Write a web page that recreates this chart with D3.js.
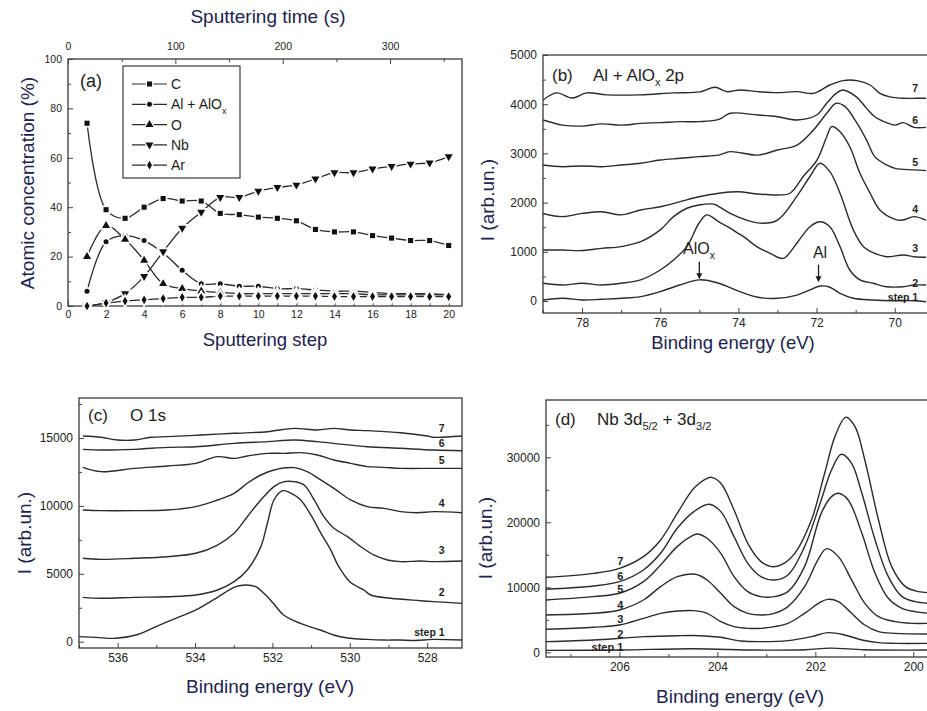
<!DOCTYPE html>
<html>
<head>
<meta charset="utf-8">
<script src="https://cdn.jsdelivr.net/npm/d3@7"></script>
<style>
body { margin: 0; background: #fff; }
text { font-family: "Liberation Sans", Arial, sans-serif; }
</style>
</head>
<body>
<svg id="fig" width="927" height="711"></svg>
<script>
// (a) depth profile: atomic concentration (%) per sputtering step
const steps = [1, 2, 3, 4, 5, 6, 7, 8, 9, 10, 11, 12, 13, 14, 15, 16, 17, 18, 19, 20];
const concC = [74, 39, 35.5, 40, 43.5, 42.5, 42.5, 37.5, 37, 36, 35.5, 34.5, 31, 30, 30, 28.5, 27.5, 26.5, 26.5, 24.5];
const concAl = [6, 26, 28.5, 26.5, 21.5, 14.5, 9, 9, 8, 8, 7, 7, 6.5, 6, 6, 5.5, 5, 5, 5, 4.5];
const concO = [20, 32.5, 27, 18.5, 9, 7, 6, 5.5, 5, 5, 5, 5, 5, 5, 5, 4.5, 4.5, 4.5, 4.5, 4.5];
const concNb = [0, 1.5, 5, 12, 22, 31.5, 38, 44, 44, 46.5, 48, 49, 51.5, 54, 54, 55.5, 56.5, 57.5, 58, 60.5];
const concAr = [0, 1.2, 2, 2.5, 3, 3.5, 3.5, 4, 4, 4, 4, 4, 4, 3.8, 3.8, 3.8, 3.8, 3.8, 3.8, 3.8];
const profileNames = ["C", "Al + AlO", "O", "Nb", "Ar"];

// (b) Al + AlOx 2p, [binding energy eV, intensity]
const al1 = [[79,20],[78.5,55],[78,20],[77.5,35],[77,55],[76.5,90],[76,190],[75.5,325],[75,430],[74.5,360],[74,200],[73.5,75],[73,55],[72.5,120],[72.17,225],[71.91,305],[71.66,280],[71.4,155],[71.06,55],[70.55,20],[70,5],[69.5,5],[69.2,-15]];
const al2 = [[79,360],[78.5,325],[78,360],[77.5,325],[77,360],[76.5,430],[76,630],[75.66,835],[75.32,1105],[75.01,1580],[74.81,1750],[74.5,1610],[74.21,1480],[74.01,1375],[73.87,1310],[73.53,1105],[73.19,970],[72.85,865],[72.51,1170],[72.17,1510],[71.91,1610],[71.66,1510],[71.4,1105],[71.15,630],[70.89,430],[70.55,360],[70.21,290],[69.78,290],[69.51,325],[69.2,325]];
const al3 = [[79,1035],[78.5,1035],[78,1025],[77.5,1070],[77,1105],[76.5,1205],[76,1445],[75.66,1715],[75.32,1885],[75.01,1950],[74.64,1970],[74.5,1920],[74.21,1780],[73.79,1645],[73.37,1580],[73,1645],[72.51,2120],[72.17,2530],[71.91,2800],[71.66,2630],[71.4,2190],[71.06,1445],[70.8,1105],[70.51,970],[70.21,900],[69.78,935],[69.51,900],[69.2,890]];
const al4 = [[79,1780],[78.5,1715],[78,1780],[77.5,1815],[77,1750],[76.5,1850],[76,1915],[75.49,2020],[75.01,2120],[74.5,2190],[74.01,2220],[73.5,2175],[73,2155],[72.68,2190],[72.34,2530],[71.99,2865],[71.74,3340],[71.61,3545],[71.4,3440],[71.15,3135],[70.89,2595],[70.63,2190],[70.38,1850],[69.99,1660],[69.78,1645],[69.51,1715],[69.2,1645]];
const al5 = [[79,2765],[78.5,2730],[78,2745],[77.5,2730],[77,2765],[76.5,2800],[76,2865],[75.49,2900],[75.01,2935],[74.5,2965],[74.21,3035],[73.5,2965],[73,3070],[72.5,3170],[72.08,3475],[71.74,3815],[71.5,4020],[71.27,3950],[70.99,3645],[70.72,3270],[70.51,2935],[70.21,2765],[69.99,2695],[69.51,2665],[69.2,2650]];
const al6 = [[79,3680],[78.5,3575],[78,3555],[77.5,3600],[77,3575],[76.5,3610],[76,3625],[75.49,3645],[75.01,3645],[74.5,3690],[74.21,3815],[73.5,3780],[73,3745],[72.5,3680],[72,3780],[71.74,4020],[71.5,4220],[71.33,4290],[70.99,4155],[70.72,3915],[70.51,3745],[70.21,3625],[69.99,3575],[69.78,3625],[69.51,3530],[69.2,3530]];
const al7 = [[79,4085],[78.65,4230],[78.26,4125],[77.88,4230],[77.37,4190],[76.52,4190],[75.67,4230],[74.98,4250],[74.6,4345],[74.3,4255],[73.96,4290],[73.5,4255],[73,4235],[72.5,4255],[72.08,4220],[71.66,4390],[71.32,4480],[70.97,4480],[70.63,4390],[70.38,4220],[70.12,4150],[69.78,4120],[69.44,4120],[69.2,4120]];

// (c) O 1s
const o1 = [[537,370],[536.56,320],[536.04,250],[535.53,495],[535.01,1110],[534.5,1720],[533.98,2335],[533.46,3195],[532.95,4050],[532.69,4170],[532.43,4050],[532.22,3560],[532,2900],[531.71,1970],[531.28,1350],[530.76,860],[530.42,495],[530,250],[529.57,170],[529.1,120],[528.71,125],[528.3,90],[527.85,170],[527.1,125]];
const o2 = [[536.9,3265],[536.43,3195],[535.57,3265],[534.71,3315],[533.98,3440],[533.42,3805],[532.99,4420],[532.65,5280],[532.3,7000],[532.13,8720],[531.96,10435],[531.74,11120],[531.5,10900],[531.27,10435],[531,9300],[530.75,8000],[530.5,6800],[530.3,5600],[530,4420],[529.64,3810],[529.46,3440],[528.95,3195],[528.17,3020],[527.83,2950],[527.1,2825]];
const o3 = [[536.9,6140],[536.43,6065],[535.57,6140],[534.71,6260],[533.98,6510],[533.42,7120],[532.99,7980],[532.65,9205],[532.3,10435],[531.96,11420],[531.7,11785],[531.44,11785],[531.18,11540],[530.92,10435],[530.67,9205],[530.41,8350],[530.06,7735],[529.72,7000],[529.38,6385],[529.03,6015],[528.69,5895],[528.17,5940],[527.83,5895],[527.1,5940]];
const o4 = [[536.9,9700],[536.43,9650],[535.57,9650],[534.71,9700],[533.98,9945],[533.42,10435],[532.99,10925],[532.65,11665],[532.3,12275],[531.96,12645],[531.44,12815],[531.1,12520],[530.75,11910],[530.41,11290],[529.98,10435],[529.55,9945],[529.12,9820],[528.69,9575],[528.26,9500],[527.83,9575],[527.1,9500]];
const o5 = [[536.9,12840],[536.43,12520],[535.57,12765],[534.71,12940],[533.98,13135],[533.42,13625],[532.99,13500],[532.65,13675],[532.13,13870],[531.7,13870],[531.27,13920],[530.84,13750],[530.41,13380],[529.98,13135],[529.55,12890],[529.12,12840],[528.69,12765],[527.83,12765],[527.1,12765]];
const o6 = [[536.9,14165],[536.43,14115],[535.57,14165],[534.71,14310],[533.98,14360],[532.99,14605],[532.13,14730],[531.44,14850],[530.84,14730],[530.41,14605],[529.55,14360],[528.69,14240],[527.83,14115],[527.1,14065]];
const o7 = [[536.9,15145],[536.43,15050],[536,14850],[535.57,14850],[535.14,15050],[534.71,15100],[533.85,15220],[532.99,15345],[532.13,15465],[531.44,15710],[530.84,15590],[530.41,15710],[529.98,15590],[529.55,15540],[528.69,15390],[528,15145],[527.83,15050],[527.1,15145]];

// (d) Nb 3d5/2 + 3d3/2
const nb1 = [[207.51,300],[206,350],[204.5,550],[203.2,350],[202.2,400],[201.7,650],[201,400],[199.68,350]];
const nb2 = [[207.51,1640],[206.53,1900],[206,2150],[205.51,2410],[204.82,2560],[204.34,2560],[203.93,2310],[203.52,1740],[203.11,1640],[202.56,1800],[202.08,2410],[201.74,3030],[201.4,2670],[201.05,1900],[200.71,1490],[200.37,1380],[199.68,1380]];
const nb3 = [[207.51,3540],[206.53,3850],[206,4200],[205.51,5230],[205.16,6000],[204.82,6360],[204.48,6410],[204.21,6000],[203.93,4720],[203.66,3950],[203.38,3690],[203.11,3690],[202.84,3950],[202.56,4460],[202.22,6000],[201.88,7790],[201.74,8150],[201.53,7790],[201.26,6000],[200.99,4200],[200.71,3180],[200.37,2920],[199.68,2820]];
const nb4 = [[207.51,5740],[206.53,6000],[206,6510],[205.51,8050],[205.16,10100],[204.82,11640],[204.45,12000],[204.21,11130],[203.93,9080],[203.66,7030],[203.38,6000],[203.11,5740],[202.84,6000],[202.56,7030],[202.22,10100],[201.95,14200],[201.77,15950],[201.53,14720],[201.26,11130],[200.99,7540],[200.71,5490],[200.37,4720],[200.03,4460],[199.68,4460]];
const nb5 = [[207.51,8050],[206.53,8560],[206,9080],[205.51,10870],[205.16,13440],[204.82,16260],[204.48,18050],[204.4,18200],[204.21,17540],[203.93,15230],[203.66,11640],[203.38,9330],[203.11,8560],[202.84,8560],[202.56,9330],[202.22,13180],[201.88,21380],[201.67,23950],[201.53,24460],[201.33,23440],[201.05,18310],[200.78,12150],[200.51,8310],[200.23,6770],[199.96,6260],[199.68,6000]];
const nb6 = [[207.51,9690],[206.53,10200],[206,10870],[205.51,12670],[205.16,15230],[204.82,19080],[204.48,21640],[204.17,22770],[203.93,21640],[203.66,17790],[203.38,13690],[203.11,11640],[202.84,11130],[202.56,11900],[202.22,16260],[201.88,23440],[201.67,28050],[201.47,30460],[201.26,29080],[201.05,24460],[200.78,17280],[200.51,11640],[200.23,8560],[199.96,7790],[199.68,7540]];
const nb7 = [[207.51,11540],[206.53,12150],[206,12920],[205.51,14720],[205.16,17280],[204.82,21380],[204.48,25230],[204.21,26770],[204.12,26920],[203.93,26000],[203.66,21900],[203.38,16770],[203.11,13950],[202.9,13180],[202.7,13440],[202.42,15230],[202.08,20360],[201.81,27540],[201.6,33180],[201.38,36150],[201.19,34720],[200.99,29590],[200.71,20360],[200.44,13180],[200.16,10100],[199.89,9330],[199.68,9180]];

// curve labels (step number) and where they sit, in data units
const stepLabels = ["step 1", "2", "3", "4", "5", "6", "7"];
const alLabelI = [80, 365, 1080, 1870, 2825, 3680, 4330];
const oLabelI = [710, 3670, 6760, 10210, 13380, 14630, 15740];
const nbLabelI = [820, 2820, 5120, 7280, 9740, 11740, 14050];

const ink = "#2b2b2b";
const navy = "#22224e";
const svg = d3.select("#fig");

function panel(id, box, x, y, ax) {
    const g = svg.append("g");
    g.append("clipPath").attr("id", id).append("rect")
        .attr("x", box.l).attr("y", box.t)
        .attr("width", box.r - box.l).attr("height", box.b - box.t);

    const fs = ax.fs;
    const add = (axis, tr) => {
        const a = g.append("g").attr("transform", tr).call(axis);
        a.select(".domain").remove();
        a.selectAll("line").attr("stroke", "#444");
        a.selectAll("text").attr("font-size", fs).attr("fill", "#222")
            .attr("font-family", "Liberation Sans, Arial, sans-serif");
        return a;
    };
    add(d3.axisBottom(x).tickValues(ax.xMinor).tickSize(-3).tickFormat(""), `translate(0,${box.b})`);
    add(d3.axisBottom(x).tickValues(ax.xMajor).tickSize(-5).tickPadding(5).tickFormat(d3.format("d")), `translate(0,${box.b})`);
    add(d3.axisLeft(y).tickValues(ax.yMinor).tickSize(-3).tickFormat(""), `translate(${box.l},0)`);
    add(d3.axisLeft(y).tickValues(ax.yMajor).tickSize(-5).tickPadding(6).tickFormat(d3.format("d")), `translate(${box.l},0)`);

    g.append("rect")
        .attr("x", box.l).attr("y", box.t)
        .attr("width", box.r - box.l).attr("height", box.b - box.t)
        .attr("fill", "none").attr("stroke", "#3a3a3a").attr("stroke-width", 1.3);
    return g;
}

function title(g, txt, x, y, rot, size) {
    g.append("text").text(txt)
        .attr("transform", `translate(${x},${y})` + (rot ? " rotate(-90)" : ""))
        .attr("text-anchor", "middle").attr("font-size", size || 19).attr("fill", navy);
}

// text with subscript pieces
function subText(g, x, y, size, parts) {
    const t = g.append("text").attr("x", x).attr("y", y).attr("font-size", size).attr("fill", "#1e1e1e");
    let shift = 0;
    parts.forEach(([s, sub]) => {
        const d = sub ? size * 0.3 - shift : -shift;
        t.append("tspan").text(s).attr("dy", d).attr("font-size", sub ? size * 0.65 : size);
        shift = sub ? size * 0.3 : 0;
    });
    return t;
}

/* ---------- (a) ---------- */
const boxA = { l: 68, r: 462, t: 59, b: 306 };
const xa = d3.scaleLinear().domain([0, 20.7]).range([boxA.l, boxA.r]);
const ya = d3.scaleLinear().domain([0, 100]).range([boxA.b, boxA.t]);
const ta = d3.scaleLinear().domain([0, 367]).range([boxA.l, boxA.r]);
const gA = panel("clipA", boxA, xa, ya, {
    fs: 10.5,
    xMajor: [0, 2, 4, 6, 8, 10, 12, 14, 16, 18, 20],
    xMinor: [1, 3, 5, 7, 9, 11, 13, 15, 17, 19],
    yMajor: [0, 20, 40, 60, 80, 100],
    yMinor: [10, 30, 50, 70, 90]
});
const topAx = gA.append("g").attr("transform", `translate(0,${boxA.t})`)
    .call(d3.axisTop(ta).tickValues([0, 100, 200, 300]).tickSize(-5).tickPadding(9).tickFormat(d3.format("d")));
topAx.append("g").call(d3.axisTop(ta).tickValues([50, 150, 250, 350]).tickSize(-3).tickFormat(""));
topAx.selectAll(".domain").remove();
topAx.selectAll("line").attr("stroke", "#444");
topAx.selectAll("text").attr("font-size", 10.5).attr("fill", "#222");

title(gA, "Sputtering time (s)", 268, 23, false);
title(gA, "Sputtering step", 265, 346, false, 18.5);
title(gA, "Atomic concentration (%)", 34, 183, true);
gA.append("text").text("(a)").attr("x", 80).attr("y", 87).attr("font-size", 18).attr("fill", "#1e1e1e");

const sym = [
    d3.symbol().type(d3.symbolSquare).size(26),
    d3.symbol().type(d3.symbolCircle).size(20),
    d3.symbol().type(d3.symbolTriangle).size(28),
    d3.symbol().type(d3.symbolTriangle).size(28),
    d3.symbol().type(d3.symbolDiamond).size(22)
];
const symRot = [0, 0, 0, 180, 0];
const profiles = [concC, concAl, concO, concNb, concAr];
const profLine = d3.line()
    .x((d, i) => xa(steps[i]))
    .y(d => ya(d))
    .curve(d3.curveCatmullRom.alpha(0.5));

profiles.forEach(vals => {
    gA.append("path").attr("d", profLine(vals))
        .attr("fill", "none").attr("stroke", ink).attr("stroke-width", 1.3);
});
profiles.forEach((vals, k) => {
    gA.append("g").selectAll("path").data(vals).enter().append("path")
        .attr("d", sym[k])
        .attr("transform", (d, i) => `translate(${xa(steps[i])},${ya(d)}) rotate(${symRot[k]})`)
        .attr("fill", "#111").attr("stroke", "#fff").attr("stroke-width", 3.5)
        .attr("paint-order", "stroke");
});

// legend
const leg = gA.append("g");
leg.append("rect").attr("x", 123).attr("y", 66).attr("width", 117).attr("height", 112)
    .attr("fill", "#fff").attr("stroke", "#3a3a3a").attr("stroke-width", 1.2);
profileNames.forEach((name, k) => {
    const ly = 84 + k * 20.3;
    leg.append("line").attr("x1", 132).attr("x2", 167).attr("y1", ly).attr("y2", ly)
        .attr("stroke", ink).attr("stroke-width", 1.2);
    leg.append("path").attr("d", sym[k])
        .attr("transform", `translate(149.5,${ly}) rotate(${symRot[k]})`)
        .attr("fill", "#111").attr("stroke", "#fff").attr("stroke-width", 2.5).attr("paint-order", "stroke");
    if (k === 1) {
        subText(leg, 171, ly + 5, 14, [["Al + AlO", false], ["x", true]]);
    } else {
        leg.append("text").text(name).attr("x", 171).attr("y", ly + 5)
            .attr("font-size", 14).attr("fill", "#1e1e1e");
    }
});

/* ---------- spectra panels ---------- */
function spectra(g, clip, x, y, curves) {
    const line = d3.line().x(d => x(d[0])).y(d => y(d[1])).curve(d3.curveCatmullRom.alpha(0.5));
    g.append("g").attr("clip-path", `url(#${clip})`)
        .selectAll("path").data(curves).enter().append("path")
        .attr("d", line).attr("fill", "none").attr("stroke", ink).attr("stroke-width", 1.4);
}
function stepTags(g, x, y, e, vals, fs) {
    g.append("g").selectAll("text").data(vals).enter().append("text")
        .text((d, i) => stepLabels[i])
        .attr("x", x(e)).attr("y", d => y(d))
        .attr("dy", "0.35em").attr("text-anchor", "end")
        .attr("font-size", fs).attr("font-weight", "bold").attr("fill", "#1e1e1e");
}

/* ---------- (b) ---------- */
const boxB = { l: 543, r: 932, t: 55, b: 313 };
const xb = d3.scaleLinear().domain([79, 69.2]).range([543, 926]);
const yb = d3.scaleLinear().domain([-244, 5000]).range([boxB.b, boxB.t]);
const gB = panel("clipB", boxB, xb, yb, {
    fs: 12,
    xMajor: [78, 76, 74, 72, 70],
    xMinor: [79, 77, 75, 73, 71],
    yMajor: [0, 1000, 2000, 3000, 4000, 5000],
    yMinor: [500, 1500, 2500, 3500, 4500]
});
spectra(gB, "clipB", xb, yb, [al1, al2, al3, al4, al5, al6, al7]);
stepTags(gB, xb, yb, 69.4, alLabelI, 10.5);
title(gB, "Binding energy (eV)", 733, 349, false, 18.5);
title(gB, "I (arb.un.)", 494, 200, true);
gB.append("text").text("(b)").attr("x", 552).attr("y", 81).attr("font-size", 17).attr("fill", "#1e1e1e");
subText(gB, 593, 81, 17, [["Al + AlO", false], ["x", true], [" 2p", false]]);
subText(gB, 683, 254, 16, [["AlO", false], ["x", true]]);
gB.append("text").text("Al").attr("x", 820).attr("y", 258).attr("text-anchor", "middle")
    .attr("font-size", 16).attr("fill", "#1e1e1e");
const arrows = [[75.0, 800, 440], [71.95, 740, 380]];
arrows.forEach(([e, i0, i1]) => {
    gB.append("line").attr("x1", xb(e)).attr("x2", xb(e)).attr("y1", yb(i0)).attr("y2", yb(i1) - 4)
        .attr("stroke", "#1e1e1e").attr("stroke-width", 1.3);
    gB.append("path")
        .attr("d", `M${xb(e) - 3},${yb(i1) - 6}L${xb(e) + 3},${yb(i1) - 6}L${xb(e)},${yb(i1)}Z`)
        .attr("fill", "#1e1e1e");
});

/* ---------- (c) ---------- */
const boxC = { l: 79, r: 462, t: 398, b: 648 };
const xc = d3.scaleLinear().domain([537, 527.1]).range([boxC.l, boxC.r]);
const yc = d3.scaleLinear().domain([-464, 17945]).range([boxC.b, boxC.t]);
const gC = panel("clipC", boxC, xc, yc, {
    fs: 12,
    xMajor: [536, 534, 532, 530, 528],
    xMinor: [537, 535, 533, 531, 529],
    yMajor: [0, 5000, 10000, 15000],
    yMinor: [2500, 7500, 12500, 17500]
});
spectra(gC, "clipC", xc, yc, [o1, o2, o3, o4, o5, o6, o7]);
stepTags(gC, xc, yc, 527.55, oLabelI, 10.5);
title(gC, "Binding energy (eV)", 270, 693, false);
title(gC, "I (arb.un.)", 31, 533, true);
gC.append("text").text("(c)").attr("x", 88).attr("y", 421).attr("font-size", 17).attr("fill", "#1e1e1e");
gC.append("text").text("O 1s").attr("x", 130).attr("y", 421).attr("font-size", 17).attr("fill", "#1e1e1e");

/* ---------- (d) ---------- */
const boxD = { l: 546, r: 932, t: 400, b: 657 };
const xd = d3.scaleLinear().domain([207.5, 199.72]).range([546, 927]);
const yd = d3.scaleLinear().domain([-720, 38815]).range([boxD.b, boxD.t]);
const gD = panel("clipD", boxD, xd, yd, {
    fs: 12,
    xMajor: [206, 204, 202, 200],
    xMinor: [207, 205, 203, 201],
    yMajor: [0, 10000, 20000, 30000],
    yMinor: [5000, 15000, 25000, 35000]
});
spectra(gD, "clipD", xd, yd, [nb1, nb2, nb3, nb4, nb5, nb6, nb7]);
stepTags(gD, xd, yd, 205.92, nbLabelI, 11);
title(gD, "Binding energy (eV)", 740, 703, false);
title(gD, "I (arb.un.)", 492, 538, true);
gD.append("text").text("(d)").attr("x", 555).attr("y", 425).attr("font-size", 17).attr("fill", "#1e1e1e");
subText(gD, 597, 425, 17, [["Nb 3d", false], ["5/2", true], [" + 3d", false], ["3/2", true]]);
</script>
</body>
</html>
